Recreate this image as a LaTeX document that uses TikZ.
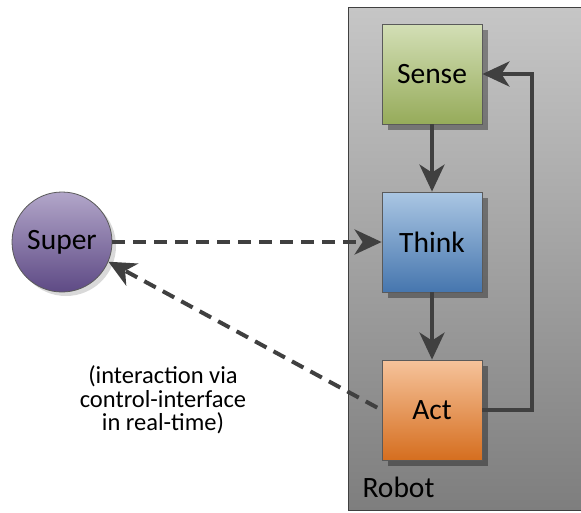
\documentclass[tikz,border=0pt]{standalone}
\usepackage{fontspec}
\setmainfont{Carlito}
\usetikzlibrary{arrows.meta,shadows}
\definecolor{lineC}{HTML}{404040}
\definecolor{edgeC}{HTML}{5A5A5A}
\definecolor{senseT}{HTML}{D3DFB6}
\definecolor{senseB}{HTML}{96AB5A}
\definecolor{thinkT}{HTML}{AAC6E3}
\definecolor{thinkB}{HTML}{4676AE}
\definecolor{actT}{HTML}{F6C39B}
\definecolor{actB}{HTML}{D56E1F}
\definecolor{superT}{HTML}{B2A6C9}
\definecolor{superB}{HTML}{5E4A85}
\definecolor{robotT}{HTML}{C6C6C6}
\definecolor{robotB}{HTML}{7E7E7E}
\begin{document}
\begin{tikzpicture}[x=1pt,y=-1pt,
  box/.style={draw=edgeC, line width=0.8pt, minimum width=100pt, minimum height=100pt,
    inner sep=0pt, font=\fontsize{29.5}{34}\selectfont,
    drop shadow={shadow xshift=6pt, shadow yshift=-6pt, opacity=0.35, fill=black}},
  conn/.style={draw=lineC, line width=4pt, -{Stealth[length=27pt,width=25pt,inset=8pt]}},
  dashconn/.style={conn, dash pattern=on 13pt off 8pt}
]
\useasboundingbox (0,0) rectangle (581,512);
\clip (0,0) rectangle (581,512);
\node[draw=lineC, line width=0.8pt, top color=robotT, bottom color=robotB,
  minimum width=260pt, minimum height=503pt, inner sep=0pt] (robot) at (478,258.5) {};
\node[anchor=west, font=\fontsize{29.5}{34}\selectfont] (robotlbl) at (359,487) {Robot};
\node[box, top color=senseT, bottom color=senseB] (sense) at (432,74) {Sense};
\node[box, top color=thinkT, bottom color=thinkB] (think) at (432,242) {Think};
\node[box, top color=actT, bottom color=actB] (act) at (432,410) {Act};
\node[circle, draw=edgeC, line width=0.8pt, minimum size=100pt, inner sep=0pt,
  top color=superT, bottom color=superB, font=\fontsize{29.5}{34}\selectfont,
  drop shadow={shadow xshift=4pt, shadow yshift=-4pt, opacity=0.15, fill=black}] (super) at (62,242) {Super};
\node[align=center, font=\fontsize{24.5}{23.5}\selectfont] (cap) at (163,400)
  {(interaction via\\control-interface\\in real-time)};
\draw[conn] (sense) -- (think);
\draw[conn] (think) -- (act);
\draw[conn] (act.east) -- ++(50,0) |- (sense.east);
\draw[dashconn] (super) -- (think);
\draw[dashconn, shorten <=5pt] (act.west) -- (super.-23);
\end{tikzpicture}
\end{document}
